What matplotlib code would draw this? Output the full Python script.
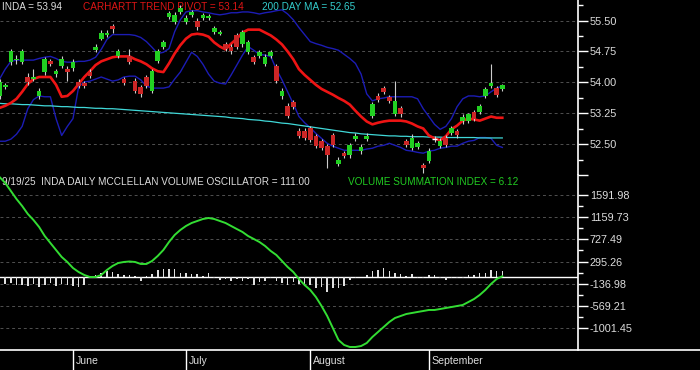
import numpy as np
import pandas as pd
import matplotlib.pyplot as plt
from matplotlib.lines import Line2D

plt.rcParams['font.family'] = ['Liberation Sans', 'DejaVu Sans']

holidays = ["2025-05-26", "2025-06-19", "2025-07-04", "2025-09-01"]
dates = pd.bdate_range("2025-05-13", "2025-09-19")
dates = dates[~dates.isin(pd.to_datetime(holidays))]

opens = [53.67, 53.89, 54.49, 54.54, 54.49, 54.13, 54.08, 53.67, 54.25, 54.51,
         54.20, 54.39, 54.32, 54.34, 54.01, 53.98, 54.25, 54.78, 55.06, 55.14,
         55.38, 54.63, 54.08, 54.63, 54.03, 53.89, 54.13, 53.79, 54.51, 54.85,
         55.59, 55.47, 55.71, 55.47, 55.64, 55.50, 55.57, 55.57, 55.23, 55.18,
         54.92, 54.87, 55.16, 54.92, 54.73, 54.61, 54.63, 54.44, 54.63, 54.39,
         53.67, 53.43, 53.53, 52.83, 52.83, 52.88, 52.69, 52.57, 52.45, 52.71,
         52.02, 52.28, 52.23, 52.62, 52.33, 52.62, 53.19, 53.67, 53.86, 53.65,
         53.24, 53.38, 52.57, 52.40, 52.42, 51.99, 52.09, 52.62, 52.45, 52.66,
         52.76, 52.81, 53.05, 53.07, 53.29, 53.29, 53.67, 53.91, 53.86, 53.84]
highs = [54.08, 53.98, 54.80, 54.66, 54.80, 54.22, 54.32, 53.86, 54.61, 54.56,
         54.32, 54.63, 54.39, 54.56, 54.08, 54.03, 54.32, 54.92, 55.28, 55.26,
         55.42, 54.80, 54.13, 54.80, 54.10, 53.94, 54.18, 54.32, 54.80, 55.04,
         55.74, 55.71, 55.88, 55.64, 55.76, 55.57, 55.69, 55.66, 55.38, 55.28,
         54.97, 54.92, 55.21, 55.28, 55.02, 54.66, 54.78, 54.68, 54.78, 54.44,
         53.86, 53.50, 53.58, 52.88, 52.88, 52.93, 52.74, 52.62, 52.50, 52.76,
         52.18, 52.33, 52.52, 52.76, 52.50, 52.76, 53.53, 53.74, 53.91, 53.70,
         54.03, 53.43, 52.62, 52.74, 52.57, 52.04, 52.40, 52.69, 52.64, 52.71,
         52.93, 52.86, 53.22, 53.26, 53.34, 53.48, 53.89, 54.44, 53.91, 53.96]
lows = [53.60, 53.84, 54.42, 54.44, 54.44, 53.94, 54.03, 53.60, 54.18, 54.39,
        54.13, 54.34, 54.03, 54.27, 53.86, 53.86, 54.10, 54.73, 55.02, 55.09,
        55.21, 54.58, 53.94, 54.44, 53.74, 53.65, 53.86, 53.74, 54.46, 54.80,
        55.54, 55.42, 55.66, 55.42, 55.59, 55.28, 55.52, 55.52, 55.18, 55.14,
        54.75, 54.70, 54.80, 54.87, 54.68, 54.44, 54.58, 54.39, 54.58, 53.98,
        53.60, 53.14, 53.36, 52.64, 52.59, 52.54, 52.40, 52.35, 51.92, 52.42,
        51.97, 52.16, 52.16, 52.57, 52.26, 52.57, 53.14, 53.53, 53.72, 53.50,
        53.19, 53.17, 52.42, 52.35, 52.38, 51.80, 52.04, 52.54, 52.40, 52.42,
        52.71, 52.66, 53.00, 53.02, 53.07, 53.24, 53.62, 53.86, 53.65, 53.79]
closes = [54.01, 53.94, 54.75, 54.56, 54.75, 54.01, 54.13, 53.79, 54.56, 54.44,
          54.27, 54.56, 54.25, 54.49, 53.91, 53.91, 54.15, 54.87, 55.21, 55.21,
          55.30, 54.75, 53.98, 54.49, 53.79, 53.72, 53.91, 54.27, 54.75, 54.97,
          55.69, 55.64, 55.81, 55.57, 55.71, 55.35, 55.64, 55.62, 55.33, 55.23,
          54.80, 54.75, 54.85, 55.23, 54.97, 54.49, 54.73, 54.61, 54.73, 54.03,
          53.79, 53.19, 53.41, 52.69, 52.64, 52.59, 52.45, 52.40, 52.23, 52.47,
          52.11, 52.21, 52.47, 52.69, 52.42, 52.69, 53.48, 53.58, 53.77, 53.55,
          53.55, 53.22, 52.47, 52.66, 52.52, 51.92, 52.33, 52.62, 52.57, 52.47,
          52.88, 52.71, 53.17, 53.22, 53.12, 53.43, 53.84, 53.98, 53.70, 53.94]

pivot = [53.38, 53.43, 53.50, 53.60, 53.77, 53.96, 54.08, 54.13, 54.13, 54.13,
         53.94, 53.65, 53.67, 53.79, 53.96, 54.13, 54.27, 54.42, 54.51, 54.56,
         54.61, 54.63, 54.63, 54.63, 54.56, 54.51, 54.44, 54.34, 54.27, 54.25,
         54.46, 54.70, 54.90, 55.06, 55.16, 55.18, 55.16, 55.11, 54.97, 54.87,
         54.80, 54.94, 55.06, 55.21, 55.28, 55.28, 55.28, 55.21, 55.14, 55.04,
         54.92, 54.75, 54.56, 54.32, 54.18, 54.06, 53.94, 53.84, 53.77, 53.70,
         53.62, 53.55, 53.46, 53.31, 53.17, 53.05, 52.98, 53.02, 53.05, 53.07,
         53.07, 53.07, 53.05, 53.00, 52.93, 52.88, 52.71, 52.64, 52.59, 52.69,
         52.86, 52.95, 53.07, 53.12, 53.10, 53.07, 53.12, 53.17, 53.14, 53.14]
upper_band = [54.08, 54.32, 54.51, 54.54, 54.54, 54.54, 54.54, 54.58, 54.61, 54.63,
              54.58, 54.51, 54.49, 54.49, 54.51, 54.51, 54.54, 54.61, 54.80, 55.04,
              55.16, 55.16, 55.16, 55.16, 55.14, 55.09, 54.99, 54.85, 54.70, 54.73,
              54.82, 55.23, 55.52, 55.71, 55.74, 55.74, 55.71, 55.69, 55.66, 55.64,
              55.66, 55.69, 55.69, 55.71, 55.71, 55.69, 55.66, 55.69, 55.71, 55.74,
              55.76, 55.66, 55.52, 55.33, 55.16, 54.99, 54.94, 54.90, 54.85, 54.82,
              54.78, 54.68, 54.58, 54.46, 54.20, 53.72, 53.55, 53.60, 53.62, 53.65,
              53.65, 53.65, 53.65, 53.65, 53.60, 53.36, 53.17, 52.98, 52.86, 52.93,
              53.12, 53.41, 53.60, 53.67, 53.67, 53.65, 53.67, 53.77, 53.86, 53.91]
lower_band = [52.57, 52.57, 52.62, 52.74, 52.93, 53.36, 53.58, 53.67, 53.65, 53.65,
              53.12, 52.71, 52.93, 53.12, 53.89, 54.01, 54.03, 54.08, 54.13, 54.08,
              54.03, 54.06, 54.13, 54.15, 54.15, 54.06, 53.91, 53.86, 53.86, 53.86,
              53.89, 54.08, 54.25, 54.49, 54.73, 54.63, 54.44, 54.20, 54.03, 53.98,
              53.96, 54.18, 54.42, 54.66, 54.87, 54.78, 54.68, 54.66, 54.63, 54.32,
              54.06, 53.77, 53.48, 53.17, 53.02, 52.90, 52.76, 52.64, 52.52, 52.45,
              52.40, 52.35, 52.35, 52.35, 52.35, 52.38, 52.40, 52.45, 52.47, 52.52,
              52.47, 52.42, 52.35, 52.33, 52.30, 52.28, 52.33, 52.35, 52.40, 52.42,
              52.45, 52.45, 52.52, 52.57, 52.59, 52.66, 52.66, 52.64, 52.47, 52.42]
ma200 = [53.49, 53.48, 53.48, 53.47, 53.46, 53.46, 53.45, 53.44, 53.43, 53.43,
         53.42, 53.41, 53.41, 53.40, 53.39, 53.39, 53.38, 53.37, 53.37, 53.36,
         53.36, 53.35, 53.34, 53.33, 53.32, 53.31, 53.30, 53.29, 53.28, 53.27,
         53.26, 53.25, 53.24, 53.23, 53.22, 53.21, 53.20, 53.19, 53.18, 53.17,
         53.16, 53.14, 53.13, 53.12, 53.10, 53.09, 53.08, 53.06, 53.05, 53.03,
         53.01, 53.00, 52.98, 52.96, 52.94, 52.92, 52.90, 52.88, 52.86, 52.84,
         52.82, 52.80, 52.78, 52.77, 52.75, 52.74, 52.73, 52.72, 52.71, 52.70,
         52.70, 52.69, 52.69, 52.68, 52.68, 52.68, 52.67, 52.67, 52.67, 52.66,
         52.66, 52.66, 52.66, 52.66, 52.66, 52.65, 52.65, 52.65, 52.65, 52.65]

summation = [1951, 1834, 1677, 1520, 1383, 1227, 1109, 972, 795, 658,
             521, 384, 286, 168, 90, 31, -8, -8, 31, 129,
             208, 266, 286, 296, 286, 247, 247, 306, 404, 521,
             678, 815, 913, 991, 1050, 1089, 1128, 1148, 1128, 1089,
             1050, 991, 932, 874, 795, 737, 678, 600, 502, 423,
             306, 188, 90, -47, -165, -262, -400, -576, -772, -1007,
             -1242, -1340, -1379, -1379, -1360, -1301, -1183, -1085, -987, -889,
             -811, -772, -733, -713, -693, -674, -654, -654, -635, -615,
             -596, -576, -556, -498, -439, -360, -262, -145, -47, 6.12]
oscillator = [-120, -150, -130, -170, -160, -190, -150, -200, -170, -130,
              -190, -150, -160, -180, -200, -170, 10, 40, 78, 111,
              98, 46, 30, 26, 13, -85, 20, 46, 124, 144,
              157, 144, 78, 78, 46, 46, 10, 65, -30, -60,
              -50, -85, -52, -85, -52, -163, -98, -85, -33, -80,
              -117, -163, -98, -150, -183, -163, -215, -203, -294, -215,
              -215, -183, -72, -33, -7, 33, 111, 130, 163, 111,
              78, 60, 5, 45, -20, -33, 33, 33, -33, -72,
              -33, -20, -20, 33, 33, 78, 78, 124, 111, 111]

price_ticks = [51.75, 52.50, 53.25, 54.00, 54.75, 55.50]
osc_ticks = [1591.98, 1159.73, 727.49, 295.26, -136.98, -569.21, -1001.45]

x = np.arange(len(dates))
o, h, l, c = map(np.array, (opens, highs, lows, closes))
up = c > o
down = c < o
flat = c == o

month_start = [i for i in range(1, len(dates)) if dates[i].month != dates[i - 1].month]

W = 578 / 700
XL = (0.08, 102.4)
fig = plt.figure(figsize=(7, 3.7), dpi=100, facecolor='black')
ax1 = fig.add_axes([0, 195 / 370, W, 175 / 370])
ax2 = fig.add_axes([0, 20 / 370, W, 175 / 370])
ax3 = fig.add_axes([0, 0, W, 20 / 370])

grid_kw = dict(color='#505050', ls=(0, (3, 3)), lw=0.7)
for ax in (ax1, ax2):
    ax.set_facecolor('black')
    ax.set_xlim(*XL)
    for s in ('left', 'top', 'bottom'):
        ax.spines[s].set_visible(False)
    ax.spines['right'].set_color('white')
    ax.spines['right'].set_linewidth(1.2)
    ax.yaxis.tick_right()
    ax.set_xticks([])
    ax.tick_params(axis='y', which='major', colors='white', labelcolor='#DDDDDD',
                   labelsize=7.8, length=7, width=1, pad=1.5)
    ax.tick_params(axis='y', which='minor', colors='white', length=3.5, width=1)
    ax.grid(axis='y', **grid_kw)
    ax.set_axisbelow(True)

# price panel
ax1.plot(x, upper_band, color='#1C1CB4', lw=1.0, zorder=2)
ax1.plot(x, lower_band, color='#1C1CB4', lw=1.0, zorder=2)
ax1.plot(x, ma200, color='#40D8D8', lw=0.9, zorder=2)
ax1.plot(x, pivot, color='#EE1414', lw=1.9, zorder=2)
ax1.vlines(x, l, h, color='#CCCCCC', lw=0.8, zorder=3)
ax1.bar(x[up], (c - o)[up], bottom=o[up], width=0.82, color='#22D022', zorder=4)
ax1.bar(x[down], (o - c)[down], bottom=c[down], width=0.82, color='#CC2626', zorder=4)
ax1.hlines(c[flat], x[flat] - 0.4, x[flat] + 0.4, color='white', lw=1, zorder=4)
ax1.set_ylim(51.75, 56.0)
ax1.set_yticks(price_ticks)
ax1.set_yticklabels(['' if t == 51.75 else f'{t:.2f}' for t in price_ticks])
ax1.set_yticks([t + 0.375 for t in price_ticks], minor=True)

txt = dict(fontsize=7.2, va='center', ha='left', zorder=1)
ax1.text(2 / 578, 1 - 7 / 175, 'INDA = 53.94', transform=ax1.transAxes, color='#DDDDDD', **txt)
ax1.text(83 / 578, 1 - 7 / 175, 'CARHARTT TREND PIVOT = 53.14', transform=ax1.transAxes,
         color='#DD1515', **txt)
ax1.text(262 / 578, 1 - 7 / 175, '200 DAY MA = 52.65', transform=ax1.transAxes,
         color='#33CCCC', **txt)

# oscillator panel
ax2.axhline(0, color='white', lw=1, zorder=2)
ax2.bar(x, oscillator, width=0.28, color='#E0E0E0', zorder=3)
ax2.plot(x, summation, color='#33DD33', lw=1.4, zorder=4)
ax2.set_ylim(-1438, 1990)
ax2.set_yticks(osc_ticks)
ax2.set_yticklabels([f'{t:.2f}' for t in osc_ticks])
ax2.set_yticks([(a + b) / 2 for a, b in zip(osc_ticks, osc_ticks[1:])], minor=True)
ax2.text(2 / 578, 1 - 6.5 / 175, '9/19/25  INDA DAILY MCCLELLAN VOLUME OSCILLATOR = 111.00',
         transform=ax2.transAxes, color='#DDDDDD', **txt)
ax2.text(348 / 578, 1 - 6.5 / 175, 'VOLUME SUMMATION INDEX = 6.12',
         transform=ax2.transAxes, color='#22CC22', **txt)

# month strip
ax3.set_xlim(*XL)
ax3.set_ylim(0, 1)
ax3.axis('off')
for i in month_start:
    ax3.axvline(i, color='white', lw=1)
    ax3.text(i + 0.5, 0.45, dates[i].strftime('%B'), color='#DDDDDD', fontsize=7.6,
             va='center', ha='left')

fig.add_artist(Line2D([0, 1], [20 / 370, 20 / 370], color='white', lw=1.2,
                      transform=fig.transFigure))

fig.savefig('out.png', dpi=100, facecolor='black')
